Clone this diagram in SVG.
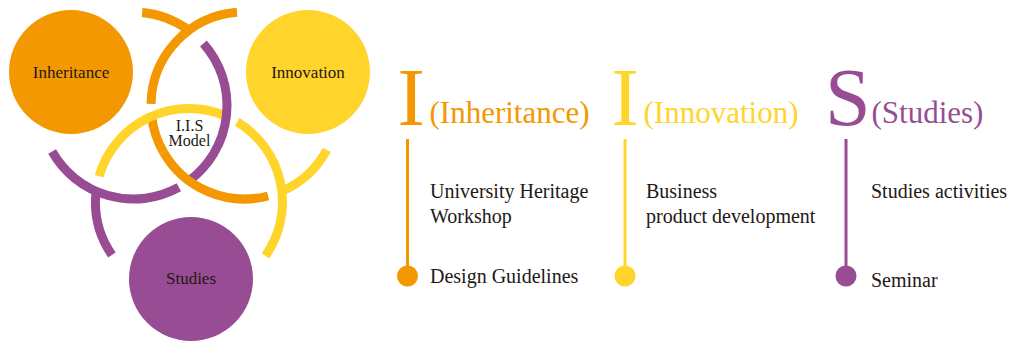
<svg xmlns="http://www.w3.org/2000/svg" width="1016" height="341" viewBox="0 0 1016 341">
<style>
.ring{fill:none;stroke-width:9;stroke-linecap:butt}
.o{stroke:#F39800}
.y{stroke:#FFD52C}
.p{stroke:#974C93}
.nt{font-family:"Liberation Serif","Times New Roman",serif;font-size:17px;fill:#231815;text-anchor:middle}
.mt{font-family:"Liberation Serif","Times New Roman",serif;font-size:16px;fill:#231815;text-anchor:middle}
.big{font-family:"Liberation Serif","Times New Roman",serif;font-size:82px}
.par{font-family:"Liberation Serif","Times New Roman",serif;font-size:31px}
.lbl{font-family:"Liberation Serif","Times New Roman",serif;font-size:20px;fill:#231815}
.vl{stroke-width:3;fill:none}
</style>
<rect width="1016" height="341" fill="#ffffff"/>
<g id="node-inheritance">
<circle cx="71" cy="72" r="62" fill="#F39800"/>
<text class="nt" x="71" y="77.5">Inheritance</text>
</g>
<g id="node-innovation">
<circle cx="308" cy="72" r="62" fill="#FFD52C"/>
<text class="nt" x="308" y="77.5">Innovation</text>
</g>
<g id="node-studies">
<circle cx="191" cy="279" r="62" fill="#974C93"/>
<text class="nt" x="191" y="283.5">Studies</text>
</g>
<g id="connectors">
<path class="ring o" d="M 163.53 152.25 A 93.5 93.5 0 0 1 151.62 116.25"/>
<path class="ring y" d="M 99.12 176.23 A 93.5 93.5 0 0 1 226.43 116.32"/>
<path class="ring p" d="M 203.42 43.42 A 93.5 93.5 0 0 1 188.98 180.76"/>
<path class="ring o" d="M 268.07 195.98 A 93.5 93.5 0 0 1 163.53 152.25"/>
<path class="ring o" d="M 151.01 103.87 A 93.5 93.5 0 0 1 237.0 12.30"/>
<path class="ring o" d="M 142.14 12.40 A 93.5 93.5 0 0 1 188.98 30.24"/>
<path class="ring p" d="M 178.83 187.28 A 93.5 93.5 0 0 1 52.12 151.54"/>
<path class="ring p" d="M 111.94 254.96 A 93.5 93.5 0 0 1 96.12 191.25"/>
<path class="ring y" d="M 237.16 121.85 A 93.5 93.5 0 0 1 265.40 255.90"/>
<path class="ring y" d="M 326.82 149.83 A 93.5 93.5 0 0 1 281.93 191.18"/>
</g>
<g id="node-model">
<text class="mt" x="189.5" y="130.5">I.I.S</text>
<text class="mt" x="189.5" y="146">Model</text>
</g>
<g id="col-inheritance">
<text class="big" x="397.5" y="125" fill="#F39800">I</text>
<text class="par" x="429.5" y="123" fill="#F39800">(Inheritance)</text>
<line class="vl" x1="407.5" y1="139" x2="407.5" y2="276" stroke="#F39800"/>
<circle cx="407.5" cy="276" r="10.5" fill="#F39800"/>
<text class="lbl" x="430" y="198">University Heritage</text>
<text class="lbl" x="430" y="223">Workshop</text>
<text class="lbl" x="430" y="283">Design Guidelines</text>
</g>
<g id="col-innovation">
<text class="big" x="611.5" y="125" fill="#FFD52C">I</text>
<text class="par" x="643.5" y="123" fill="#FFD52C">(Innovation)</text>
<line class="vl" x1="625" y1="139" x2="625" y2="276" stroke="#FFD52C"/>
<circle cx="625" cy="276" r="10.5" fill="#FFD52C"/>
<text class="lbl" x="646" y="198">Business</text>
<text class="lbl" x="646" y="223">product development</text>
</g>
<g id="col-studies">
<text class="big" x="825" y="125" fill="#974C93">S</text>
<text class="par" x="871.5" y="123" fill="#974C93">(Studies)</text>
<line class="vl" x1="846" y1="139" x2="846" y2="276" stroke="#974C93"/>
<circle cx="846" cy="276" r="10.5" fill="#974C93"/>
<text class="lbl" x="871" y="198">Studies activities</text>
<text class="lbl" x="871" y="287">Seminar</text>
</g>
</svg>
